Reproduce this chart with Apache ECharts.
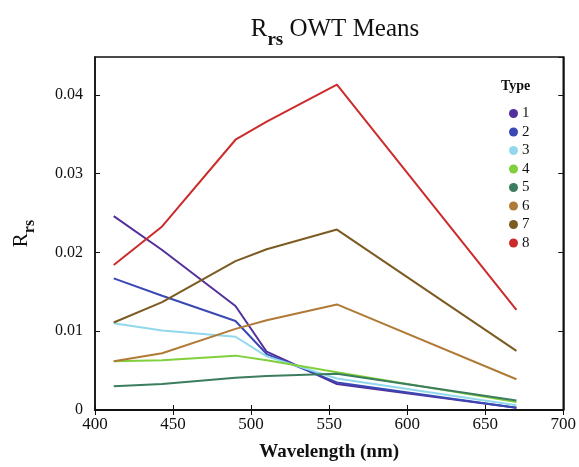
<!DOCTYPE html>
<html>
<head>
<meta charset="utf-8">
<script src="https://cdn.jsdelivr.net/npm/echarts@6/dist/echarts.min.js"></script>
<style>
  html, body { margin: 0; padding: 0; background: #fff; }
  #chart { width: 579px; height: 467px; }
</style>
</head>
<body>
<div id="chart"></div>
<script>
// wavelengths (nm)
const wavelengths = [412, 443, 490, 510, 555, 670];
const typeNames = ['1', '2', '3', '4', '5', '6', '7', '8'];
// mean Rrs for each optical water type
const type1 = [0.0246, 0.0203, 0.0132, 0.0074, 0.0033, 0.0003];
const type2 = [0.0167, 0.0145, 0.0113, 0.0071, 0.0035, 0.0003];
const type3 = [0.0110, 0.0101, 0.0093, 0.0068, 0.0040, 0.0006];
const type4 = [0.0062, 0.0063, 0.0069, 0.0063, 0.0048, 0.0010];
const type5 = [0.0030, 0.0033, 0.0041, 0.0043, 0.0046, 0.0012];
const type6 = [0.0062, 0.0072, 0.0103, 0.0114, 0.0134, 0.0039];
const type7 = [0.0111, 0.0137, 0.0189, 0.0204, 0.0229, 0.0075];
const type8 = [0.0184, 0.0233, 0.0343, 0.0366, 0.0413, 0.0127];
const allTypes = [type1, type2, type3, type4, type5, type6, type7, type8];
const colors = ['#52309c', '#3a48b4', '#92d8ec', '#80cf3c', '#3b7d5e', '#b07a36', '#7b5b22', '#cc2b2b'];

const serif = '"Liberation Serif", "DejaVu Serif", serif';

let chart = echarts.init(document.getElementById('chart'));

let series = allTypes.map(function (vals, i) {
  return {
    name: typeNames[i],
    type: 'line',
    data: wavelengths.map(function (w, j) { return [w, vals[j]]; }),
    showSymbol: false,
    symbol: 'circle',
    lineStyle: { width: 2, color: colors[i] },
    itemStyle: { color: colors[i] },
    z: 2 + i
  };
});

let option = {
  animation: false,
  title: [
    {
      text: '{m|R}{s|rs}{m| OWT Means}',
      left: 330,
      textAlign: 'center',
      top: 12,
      textStyle: {
        rich: {
          m: { fontFamily: serif, fontSize: 25, fontWeight: 'normal', color: '#111', verticalAlign: 'top', lineHeight: 30 },
          s: { fontFamily: serif, fontSize: 19, fontWeight: 'bold', color: '#111', padding: [16, 0, 0, 0], lineHeight: 30 }
        }
      }
    },
    {
      text: 'Type',
      left: 496,
      top: 74,
      textStyle: { fontFamily: serif, fontSize: 14, fontWeight: 'bold', color: '#111' }
    }
  ],
  legend: {
    data: typeNames,
    orient: 'vertical',
    left: 504,
    top: 101,
    icon: 'circle',
    itemWidth: 9,
    itemHeight: 9,
    itemGap: 3.5,
    textStyle: { fontFamily: serif, fontSize: 15, color: '#111', padding: [3, 0, 0, -1] }
  },
  grid: {
    left: 95,
    right: 14,
    top: 57,
    bottom: 56,
    show: true,
    borderColor: '#111',
    borderWidth: 1.5
  },
  xAxis: [
    {
      type: 'value',
      min: 400,
      max: 700,
      interval: 50,
      name: 'Wavelength (nm)',
      nameLocation: 'middle',
      nameGap: 33,
      nameTextStyle: { fontFamily: serif, fontSize: 19, fontWeight: 'bold', color: '#111' },
      axisLine: { lineStyle: { color: '#111', width: 1.5 } },
      axisTick: { inside: true, length: 5, lineStyle: { color: '#111' } },
      axisLabel: { fontFamily: serif, fontSize: 17, color: '#111', margin: 6 },
      splitLine: { show: false }
    },
    {
      type: 'value',
      position: 'top',
      min: 400,
      max: 700,
      interval: 50,
      axisLine: { lineStyle: { color: '#111', width: 1.5 } },
      axisTick: { inside: true, length: 5, lineStyle: { color: '#111' } },
      axisLabel: { show: false },
      splitLine: { show: false }
    }
  ],
  yAxis: [
    {
      type: 'value',
      min: 0,
      max: 0.0448,
      interval: 0.01,
      name: '{m|R}{s|rs}',
      nameLocation: 'middle',
      nameGap: 58,
      nameRotate: 90,
      nameTextStyle: {
        rich: {
          m: { fontFamily: serif, fontSize: 21, color: '#111', verticalAlign: 'top', lineHeight: 26 },
          s: { fontFamily: serif, fontSize: 16, fontWeight: 'bold', color: '#111', padding: [12, 0, 0, 0], lineHeight: 26 }
        }
      },
      axisLine: { show: true, lineStyle: { color: '#111', width: 1.5 } },
      axisTick: { show: true, inside: true, length: 5, lineStyle: { color: '#111' } },
      axisLabel: {
        fontFamily: serif,
        fontSize: 16,
        color: '#111',
        margin: 12,
        showMaxLabel: false,
        formatter: function (v) {
          if (v === 0) return '0';
          let r = Math.round(v * 100) / 100;
          if (Math.abs(r - v) > 1e-9) return '';
          return r.toFixed(2);
        }
      },
      splitLine: { show: false }
    },
    {
      type: 'value',
      position: 'right',
      min: 0,
      max: 0.0448,
      interval: 0.01,
      axisLine: { show: true, lineStyle: { color: '#111', width: 1.5 } },
      axisTick: { show: true, inside: true, length: 5, lineStyle: { color: '#111' } },
      axisLabel: { show: false },
      splitLine: { show: false }
    }
  ],
  series: series
};

chart.setOption(option);
</script>
</body>
</html>
